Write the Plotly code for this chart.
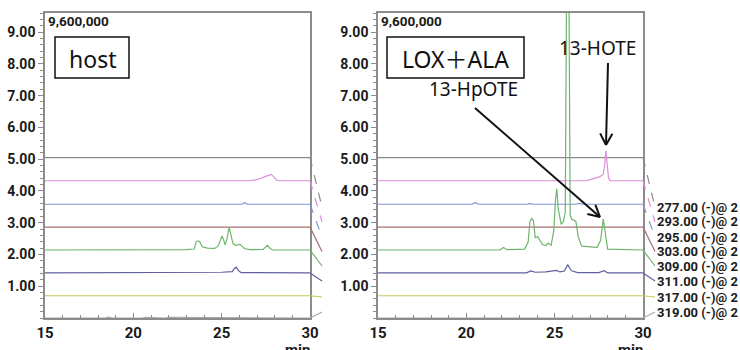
import plotly.graph_objects as go
import math

# ---------------- data ----------------
channels = ["277.00 (-)@ 2", "293.00 (-)@ 2", "295.00 (-)@ 2", "303.00 (-)@ 2",
            "309.00 (-)@ 2", "311.00 (-)@ 2", "317.00 (-)@ 2", "319.00 (-)@ 2"]
baselines = [5.05, 4.32, 3.58, 2.86, 2.14, 1.42, 0.70, 0.0]   # x 1,000,000
colors = ["#8a8a8a", "#dc8edc", "#7f97d6", "#a87070",
          "#6db56d", "#60609f", "#c8c85a", "#a8a8a8"]
panel_names = ["host", "LOX＋ALA"]

flat_t = [15, 30]
flat_v = [0, 0]

# host panel (intensity above each baseline)
host_293_t = [15, 26.6, 26.9, 27.2, 27.45, 27.65, 27.8, 27.95, 28.1, 28.3, 30]
host_293_v = [0, 0, 0.03, 0.07, 0.13, 0.16, 0.20, 0.12, 0.02, 0, 0]
host_295_t = [15, 26.15, 26.3, 26.45, 30]
host_295_v = [0, 0, 0.05, 0, 0]
host_309_t = [15, 22.0, 23.0, 23.45, 23.55, 23.65, 23.75, 23.9, 24.2, 24.6, 24.8,
              25.02, 25.1, 25.19, 25.3, 25.42, 25.5, 25.64, 25.8, 26.04, 26.3,
              26.6, 27.35, 27.58, 27.75, 27.9, 30]
host_309_v = [0, 0, 0.01, 0.03, 0.25, 0.29, 0.27, 0.10, 0.06, 0.05, 0.12,
              0.44, 0.34, 0.16, 0.35, 0.71, 0.50, 0.20, 0.15, 0.18, 0.04,
              0.01, 0.02, 0.15, 0.05, 0, 0]
host_311_t = [15, 23.5, 24.2, 25.0, 25.6, 25.72, 25.82, 25.95, 26.1, 30]
host_311_v = [0, 0, 0.02, 0.02, 0.04, 0.14, 0.18, 0.07, 0.01, 0]
host_319_t = [15, 18.4, 18.6, 18.8, 20.5, 20.7, 21.8, 22.0, 30]
host_319_v = [0, 0, 0.03, 0, 0, 0.02, 0, 0.02, 0]

# LOX + ALA panel
lox_293_t = [15, 26.8, 27.1, 27.35, 27.56, 27.75, 27.83, 27.9, 27.97, 28.05, 28.15, 30]
lox_293_v = [0, 0, 0.05, 0.10, 0.13, 0.20, 0.50, 0.94, 0.45, 0.08, 0, 0]
lox_295_t = [15, 20.3, 20.5, 20.7, 23.4, 23.6, 23.8, 26.2, 26.4, 26.6, 30]
lox_295_v = [0, 0, 0.05, 0, 0, 0.02, 0, 0, 0.03, 0, 0]
lox_309_t = [15, 21.9, 22.1, 22.3, 23.3, 23.5, 23.6, 23.7, 23.8, 23.9, 24.04,
             24.3, 24.5, 24.63, 24.8, 24.95, 25.05, 25.12, 25.2, 25.37, 25.5,
             25.6, 25.68, 25.8, 25.88, 25.96, 26.05, 26.2, 26.34, 26.53, 27.4,
             27.6, 27.75, 27.88, 28.0, 30]
lox_309_v = [0, 0, 0.08, 0.01, 0.03, 0.25, 0.90, 0.99, 0.92, 0.39, 0.42,
             0.18, 0.13, 0.22, 0.15, 0.60, 1.60, 1.93, 1.30, 0.81, 0.90,
             1.20, 9.0, 9.0, 1.10, 0.97, 0.95, 0.90, 0.40, 0.12, 0.08,
             0.30, 0.97, 0.40, 0.03, 0]
lox_311_t = [15, 23.4, 23.65, 23.9, 24.5, 25.1, 25.3, 25.55, 25.74, 25.9, 26.0,
             26.3, 27.5, 27.8, 28.0, 30]
lox_311_v = [0, 0, 0.06, 0.02, 0.03, 0.08, 0.03, 0.06, 0.26, 0.10, 0.06,
             0.01, 0.01, 0.07, 0.0, 0]
lox_317_t = [15, 16.8, 17.0, 17.2, 25.6, 25.8, 26.0, 30]
lox_317_v = [0, 0, 0.02, 0, 0, 0.02, 0, 0]
lox_319_t = [15, 16.0, 16.2, 17.5, 17.7, 19.5, 19.7, 30]
lox_319_v = [0, 0, 0.02, 0, 0.02, 0, 0.02, 0]

host_series = [(flat_t, flat_v), (host_293_t, host_293_v), (host_295_t, host_295_v),
               (flat_t, flat_v), (host_309_t, host_309_v), (host_311_t, host_311_v),
               (flat_t, flat_v), (host_319_t, host_319_v)]
lox_series = [(flat_t, flat_v), (lox_293_t, lox_293_v), (lox_295_t, lox_295_v),
              (flat_t, flat_v), (lox_309_t, lox_309_v), (lox_311_t, lox_311_v),
              (lox_317_t, lox_317_v), (lox_319_t, lox_319_v)]

y_max = 9.6
x_min, x_max = 15, 30
ytick_vals = [1, 2, 3, 4, 5, 6, 7, 8, 9]
xtick_vals = [15, 20, 25, 30]

# ---------------- layout geometry ----------------
W, H = 740, 350
ML, MR, MT, MB = 45, 97, 13, 32
PW = W - ML - MR
PH = H - MT - MB
panel_px = [(45, 310), (378, 643)]


def px(xp):
    return (xp - ML) / PW


def py(yp):
    return (H - MB - yp) / PH


def val_to_ypx(v):
    return H - MB - v / y_max * PH


fig = go.Figure()
axes = [("x", "y"), ("x2", "y2")]
for p, series in enumerate([host_series, lox_series]):
    xa, ya = axes[p]
    for i, (t, v) in enumerate(series):
        fig.add_trace(go.Scatter(
            x=t, y=[baselines[i] + vv for vv in v], mode="lines",
            line=dict(color=colors[i], width=1.2), xaxis=xa, yaxis=ya,
            showlegend=False, hoverinfo="skip"))

NARROW = "Roboto, Liberation Sans, sans-serif"
tick_font = dict(family=NARROW, size=14, color="#1a1a1a", weight="bold")
label_font = dict(family=NARROW, size=13, color="#1a1a1a", weight="bold")
axis_common = dict(showline=True, mirror=True, linecolor="#8c8c8c", linewidth=1.5,
                   showgrid=False, zeroline=False, tickfont=tick_font,
                   tickcolor="#8c8c8c", automargin=False)

dom_l = [px(panel_px[0][0]), px(panel_px[0][1])]
dom_r = [px(panel_px[1][0]), px(panel_px[1][1])]
for name, dom in [("xaxis", dom_l), ("xaxis2", dom_r)]:
    fig.layout[name] = dict(axis_common, domain=dom, range=[x_min, x_max],
                            tickvals=xtick_vals, ticks="inside", ticklen=5,
                            tickfont=dict(tick_font, size=15),
                            minor=dict(dtick=1, tick0=15, ticks="inside", ticklen=3,
                                       tickcolor="#8c8c8c"))
fig.layout.xaxis.anchor = "y"
fig.layout.xaxis2.anchor = "y2"
for name, anc in [("yaxis", "x"), ("yaxis2", "x2")]:
    fig.layout[name] = dict(axis_common, domain=[0, 1], range=[0, y_max], anchor=anc,
                            tickvals=ytick_vals, ticktext=[f"{v:.2f}" for v in ytick_vals],
                            ticks="outside", ticklen=5,
                            minor=dict(dtick=0.2, tick0=0, ticks="outside", ticklen=3,
                                       tickcolor="#8c8c8c"))

shapes = []
annotations = []

# channel connectors and labels
label_y_px = [207, 222, 237, 251.5, 266, 281, 297, 312]
for p, (x0p, x1p) in enumerate(panel_px):
    end_x = x1p + 12
    for i in range(len(channels)):
        y0p = val_to_ypx(baselines[i])
        shapes.append(dict(type="line", xref="paper", yref="paper",
                           x0=px(x1p), y0=py(y0p), x1=px(end_x), y1=py(label_y_px[i]),
                           line=dict(color=colors[i], width=1.2,
                                     dash="dash" if i < 3 else "solid")))
for i, ch in enumerate(channels):
    annotations.append(dict(text=ch, xref="paper", yref="paper", x=px(655), y=py(label_y_px[i]),
                            xanchor="left", yanchor="middle", showarrow=False, font=label_font))

# scale text and panel title boxes
for p, (x0p, x1p) in enumerate(panel_px):
    annotations.append(dict(text="9,600,000", xref="paper", yref="paper",
                            x=px(x0p + 1), y=py(21), xanchor="left", yanchor="middle",
                            showarrow=False, font=dict(label_font, size=13.5)))
    annotations.append(dict(text="min", xref="paper", yref="paper",
                            x=px(x1p - 13), y=py(350), xanchor="center", yanchor="middle",
                            showarrow=False, font=dict(label_font, size=15)))

box_px = [(55, 37, 129, 78), (387, 37, 524, 78)]
title_font = dict(family="Noto Sans, Noto Sans CJK JP, sans-serif", size=23, color="#111")
for p, (bx0, by0, bx1, by1) in enumerate(box_px):
    shapes.append(dict(type="rect", xref="paper", yref="paper",
                       x0=px(bx0), y0=py(by1), x1=px(bx1), y1=py(by0),
                       line=dict(color="#111", width=1.5)))
    annotations.append(dict(text=panel_names[p], xref="paper", yref="paper",
                            x=px((bx0 + bx1) / 2), y=py((by0 + by1) / 2 + 1),
                            xanchor="center", yanchor="middle", showarrow=False, font=title_font))

# peak annotations
ann_font = dict(family="Noto Sans, sans-serif", size=19, color="#111")
annotations.append(dict(text="13-HpOTE", xref="paper", yref="paper", x=px(473), y=py(89),
                        xanchor="center", yanchor="middle", showarrow=False, font=ann_font))
annotations.append(dict(text="13-HOTE", xref="paper", yref="paper", x=px(597), y=py(48),
                        xanchor="center", yanchor="middle", showarrow=False, font=ann_font))


def arrow(tail, head, length=13, half_angle=28):
    (tx, ty), (hx, hy) = tail, head
    shapes.append(dict(type="line", xref="paper", yref="paper", x0=px(tx), y0=py(ty),
                       x1=px(hx), y1=py(hy), line=dict(color="#111", width=2)))
    ang = math.atan2(ty - hy, tx - hx)
    for s in (-1, 1):
        a = ang + s * math.radians(half_angle)
        shapes.append(dict(type="line", xref="paper", yref="paper",
                           x0=px(hx), y0=py(hy),
                           x1=px(hx + length * math.cos(a)), y1=py(hy + length * math.sin(a)),
                           line=dict(color="#111", width=2)))


arrow((475, 108), (600, 217))
arrow((608, 63), (606, 145))

fig.update_layout(width=W, height=H, margin=dict(l=ML, r=MR, t=MT, b=MB, autoexpand=False),
                  paper_bgcolor="white", plot_bgcolor="white",
                  shapes=shapes, annotations=annotations, showlegend=False)

fig.write_html("out.html", config={"displayModeBar": False},
               post_script="document.body.style.margin='0px';document.body.style.overflow='hidden';")
